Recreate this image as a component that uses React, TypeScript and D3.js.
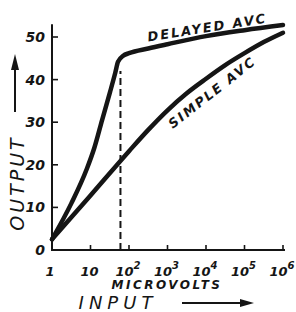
import * as d3 from "d3";
import { useEffect, useRef } from "react";

// decade ticks on the input axis (microvolts)
const inputTicks = [1, 10, 100, 1e3, 1e4, 1e5, 1e6];
const inputTickExp = ["", "", "2", "3", "4", "5", "6"];
const outputTicks = [0, 10, 20, 30, 40, 50];

// simple AVC curve
const simpleInput = [1, 10, 100, 316, 1e3, 3162, 1e4, 31623, 1e5, 316228, 1e6];
const simpleOutput = [2.5, 12.8, 23.2, 28.2, 32.8, 36.8, 40.2, 43.4, 46.2, 48.8, 51];

// delayed AVC curve
const delayedInput = [1, 3.2, 8, 12.6, 20, 32, 44, 52, 71, 100, 316, 1e3, 1e4, 1e5, 1e6];
const delayedOutput = [2.5, 11, 19, 24, 30.5, 37, 41.6, 44.2, 45.6, 46.2, 47.3, 48.3, 50.2, 51.6, 52.8];

// delay threshold marker
const thresholdInput = 60;
const thresholdOutput = 42;

const FONT = "'DejaVu Sans', sans-serif";
const INK = "#151515";

export default function App() {
  const ref = useRef<SVGSVGElement>(null);

  useEffect(() => {
    if (!ref.current) return;
    const el = ref.current;
    d3.select(el).selectAll("*").remove();

    const W = 296;
    const H = 312;
    const svg = d3.select(el).attr("viewBox", `0 0 ${W} ${H}`);

    const x = d3.scaleLog().domain([1, 1e6]).range([52, 283]);
    const y = d3.scaleLinear().domain([0, 50]).range([250, 37]);

    const g = svg.append("g");

    // axes
    g.append("line")
      .attr("x1", x(1)).attr("x2", x(1))
      .attr("y1", y(0)).attr("y2", y(53))
      .attr("stroke", INK).attr("stroke-width", 2);
    g.append("line")
      .attr("x1", x(1) - 1).attr("x2", x(1e6) + 2)
      .attr("y1", y(0)).attr("y2", y(0))
      .attr("stroke", INK).attr("stroke-width", 2);

    // y ticks + labels
    outputTicks.forEach(t => {
      if (t > 0) {
        g.append("line")
          .attr("x1", x(1)).attr("x2", x(1) + 6)
          .attr("y1", y(t)).attr("y2", y(t))
          .attr("stroke", INK).attr("stroke-width", 1.6);
      }
      g.append("text")
        .attr("x", 45)
        .attr("y", y(t) + 5)
        .attr("text-anchor", "end")
        .attr("font-family", FONT)
        .attr("font-style", "italic")
        .attr("font-weight", "bold")
        .attr("font-size", 14)
        .attr("fill", INK)
        .text(String(t));
    });

    // x ticks + labels
    inputTicks.forEach((t, i) => {
      if (i > 0) {
        g.append("line")
          .attr("x1", x(t)).attr("x2", x(t))
          .attr("y1", y(0)).attr("y2", y(0) - 5)
          .attr("stroke", INK).attr("stroke-width", 1.6);
      }
      const txt = g.append("text")
        .attr("x", x(t) - (i === 0 ? 2 : 1))
        .attr("y", 276)
        .attr("text-anchor", "middle")
        .attr("font-family", FONT)
        .attr("font-style", "italic")
        .attr("font-weight", "bold")
        .attr("font-size", 13)
        .attr("fill", INK);
      txt.append("tspan").text(t === 1 ? "1" : "10");
      if (inputTickExp[i]) {
        txt.append("tspan")
          .attr("dy", -7)
          .attr("font-size", 10)
          .text(inputTickExp[i]);
      }
    });

    // threshold dashed line
    g.append("line")
      .attr("x1", x(thresholdInput)).attr("x2", x(thresholdInput))
      .attr("y1", y(0)).attr("y2", y(thresholdOutput))
      .attr("stroke", INK).attr("stroke-width", 2)
      .attr("stroke-dasharray", "7,4");

    // curves
    const line = d3.line<[number, number]>()
      .x(d => x(d[0]))
      .y(d => y(d[1]))
      .curve(d3.curveMonotoneX);

    const simple = simpleInput.map((v, i) => [v, simpleOutput[i]] as [number, number]);
    const delayed = delayedInput.map((v, i) => [v, delayedOutput[i]] as [number, number]);

    [simple, delayed].forEach(pts => {
      g.append("path")
        .attr("d", line(pts) as string)
        .attr("fill", "none")
        .attr("stroke", INK)
        .attr("stroke-width", 4.5)
        .attr("stroke-linecap", "round")
        .attr("stroke-linejoin", "round");
    });

    // curve labels
    const curveLabel = (text: string, cx: number, cy: number, angle: number) =>
      g.append("text")
        .attr("transform", `translate(${cx},${cy}) rotate(${angle})`)
        .attr("text-anchor", "middle")
        .attr("font-family", FONT)
        .attr("font-style", "italic")
        .attr("font-weight", "bold")
        .attr("font-size", 13)
        .attr("letter-spacing", 2)
        .attr("fill", INK)
        .text(text);

    curveLabel("DELAYED AVC", 208, 32, -9);
    curveLabel("SIMPLE AVC", 215, 96, -38);

    // axis titles
    g.append("text")
      .attr("x", 167)
      .attr("y", 289)
      .attr("text-anchor", "middle")
      .attr("font-family", FONT)
      .attr("font-style", "italic")
      .attr("font-weight", "bold")
      .attr("font-size", 12)
      .attr("letter-spacing", 2.5)
      .attr("fill", INK)
      .text("MICROVOLTS");

    g.append("text")
      .attr("x", 118)
      .attr("y", 309)
      .attr("text-anchor", "middle")
      .attr("font-family", FONT)
      .attr("font-style", "italic")
      .attr("font-size", 18)
      .attr("letter-spacing", 5)
      .attr("fill", INK)
      .text("INPUT");

    g.append("text")
      .attr("transform", "translate(24,183) rotate(-90)")
      .attr("text-anchor", "middle")
      .attr("font-family", FONT)
      .attr("font-style", "italic")
      .attr("font-size", 19)
      .attr("letter-spacing", 3)
      .attr("fill", INK)
      .text("OUTPUT");

    // arrows
    g.append("line")
      .attr("x1", 182).attr("x2", 245)
      .attr("y1", 303).attr("y2", 303)
      .attr("stroke", INK).attr("stroke-width", 2);
    g.append("path")
      .attr("d", "M254,303 L240,299 L240,307 Z")
      .attr("fill", INK);

    g.append("line")
      .attr("x1", 15).attr("x2", 15)
      .attr("y1", 112).attr("y2", 62)
      .attr("stroke", INK).attr("stroke-width", 2);
    g.append("path")
      .attr("d", "M15,54 L11,70 L19,70 Z")
      .attr("fill", INK);
  }, []);

  return (
    <svg
      ref={ref}
      width={296}
      height={312}
      style={{ position: "absolute", left: 0, top: 0, display: "block", background: "#fff" }}
    />
  );
}
